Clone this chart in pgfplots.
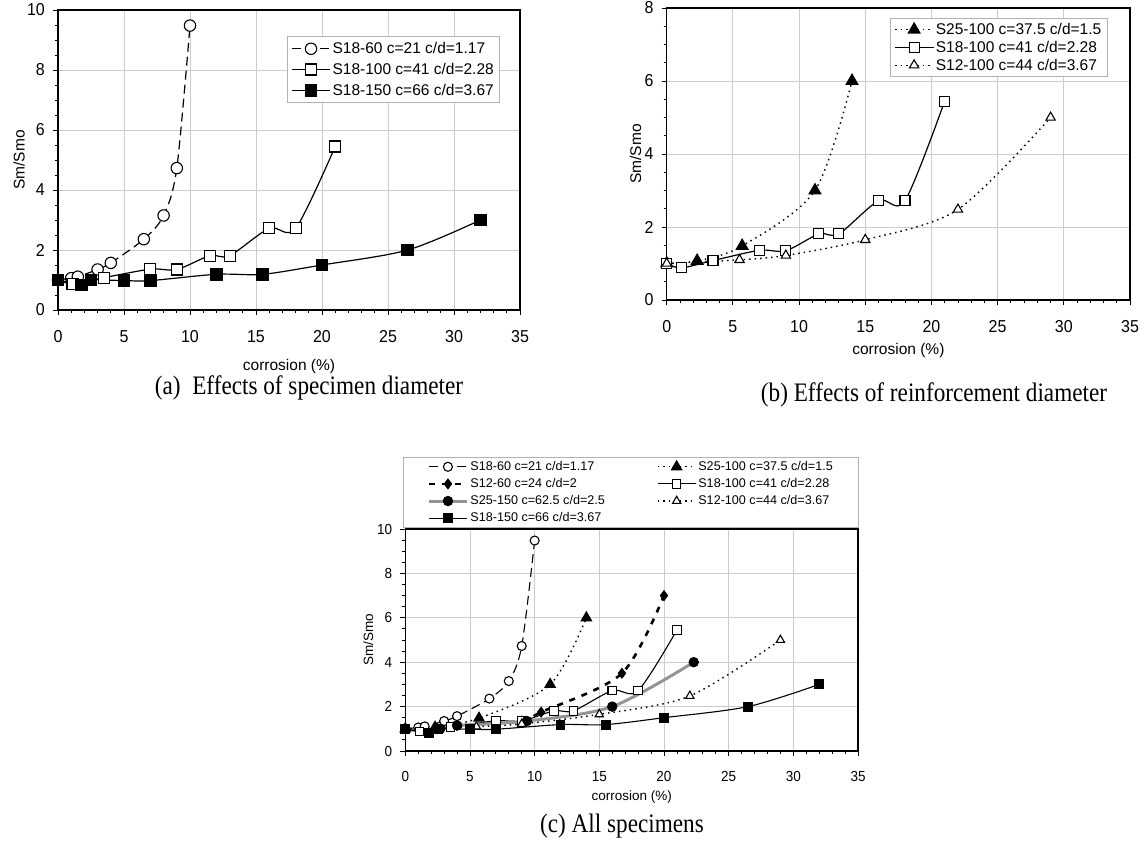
\documentclass[border=0pt]{standalone}
\usepackage{pgfplots}
\pgfplotsset{compat=1.18}
\usepackage{fontspec}
\setmainfont{Liberation Sans}
\newfontfamily\capfont{Liberation Serif}

\pgfplotsset{
 myaxis/.style={
  scale only axis,
  xmin=0, xmax=35, ymin=0,
  xtick distance=5, minor x tick num=4,
  ytick distance=2, minor y tick num=3,
  tick align=outside,
  xtick pos=bottom, ytick pos=left,
  major tick length=5pt, minor tick length=3pt,
  tick style={black, line width=0.8pt},
  grid=major,
  major grid style={line width=0.8pt, color=black!20},
  axis line style={line width=1.2pt},
  /pgf/number format/assume math mode=true,
  xlabel={corrosion (\%)},
  ylabel={Sm/Smo},
  legend cell align=left,
  legend image code/.code={\draw[mark repeat=2,mark phase=2,##1] plot coordinates {(0pt,0pt) (19pt,0pt) (38pt,0pt)};},
  legend style={draw=black!30, line width=0.8pt, font=\fontsize{15.5}{18}\selectfont,
     anchor=north west, nodes={inner sep=2pt}, inner xsep=4pt, inner ysep=3pt},
 },
 big/.style={
  tick label style={font=\fontsize{16}{18}\selectfont, yscale=1.08},
  label style={font=\fontsize{15.5}{18}\selectfont},
  xticklabel style={anchor=center, yshift=-20pt},
  yticklabel style={anchor=east, inner sep=0pt, xshift=-8pt},
 },
 small/.style={
  tick label style={font=\fontsize{13.5}{16}\selectfont, yscale=1.08},
  label style={font=\fontsize{13.5}{16}\selectfont},
  xticklabel style={anchor=center, yshift=-19pt},
  yticklabel style={anchor=east, inner sep=0pt, xshift=-8pt},
 },
 s1860/.style={black, line width=1.2pt, dash pattern=on 9pt off 5pt, smooth, mark=*, mark options={solid, fill=white, line width=1.1pt}},
 s18100/.style={black, line width=1.2pt, smooth, mark=square*, mark options={solid, fill=white, line width=1.1pt}},
 s18150/.style={black, line width=1.2pt, smooth, mark=square*, mark options={solid, fill=black}},
 s25100/.style={black, line width=1.4pt, dash pattern=on 1.5pt off 4pt, smooth, mark=triangle*, mark options={solid, fill=black}},
 s12100/.style={black, line width=1.4pt, dash pattern=on 1.5pt off 4pt, smooth, mark=triangle*, mark options={solid, fill=white, line width=1.1pt}},
 s1260/.style={black, line width=2.6pt, dash pattern=on 6pt off 7pt, smooth, mark=diamond*, mark options={solid, fill=black, line width=0.8pt}},
 s25150/.style={color=black!42, line width=3pt, smooth, mark=*, mark options={solid, fill=black, draw=black, line width=0.8pt}},
}

\pgfplotstableread{
x y
0 1
1 1.06
1.5 1.11
3 1.35
4 1.57
6.5 2.36
8 3.15
9 4.73
10 9.48
}\tSAA
\pgfplotstableread{
x y
0 1
1.1 0.88
3.5 1.08
7 1.36
9 1.35
11.5 1.81
13 1.81
16 2.72
18 2.72
21 5.45
}\tSAB
\pgfplotstableread{
x y
0 1
1.8 0.83
2.5 1.0
5 0.98
7 0.98
12 1.19
15.5 1.19
20 1.5
26.5 2.0
32 3.0
}\tSAC
\pgfplotstableread{
x y
0 1
2.3 1.07
5.7 1.48
11.2 3.0
14 6.0
}\tSBA
\pgfplotstableread{
x y
0 1
5.5 1.1
9 1.22
15 1.65
22 2.48
29 5.0
}\tSBC
\pgfplotstableread{
x y
0 1
2.5 1.0
4 1.15
9 1.35
10.5 1.75
16.75 3.5
20 7.0
}\tSCA
\pgfplotstableread{
x y
0 1
2.7 1.0
4 1.15
9.4 1.35
16 2.0
22.3 4.0
}\tSCB

\begin{document}
\begin{tikzpicture}
\path[use as bounding box] (0pt,0pt) rectangle (1142pt,848pt);

% (a)
\begin{axis}[myaxis, big, at={(58pt,538pt)}, anchor=south west, width=462pt, height=300pt, ymax=10,
  xlabel style={at={(axis description cs:0.5,0)}, anchor=center, yshift=-56pt},
  ylabel style={at={([xshift=-39pt]axis description cs:0,0.5)}, anchor=center},
  legend style={at={(0.4957,0.9133)}, row sep=4pt, inner ysep=4pt}]
\addplot[s1860, mark size=5.7pt] table {\tSAA};
\addlegendentry{S18-60 c=21 c/d=1.17}
\addplot[s18100, mark size=5.5pt] table {\tSAB};
\addlegendentry{S18-100 c=41 c/d=2.28}
\addplot[s18150, mark size=5.8pt] table {\tSAC};
\addlegendentry{S18-150 c=66 c/d=3.67}
\end{axis}

% (b)
\begin{axis}[myaxis, big, at={(666.7pt,548pt)}, anchor=south west, width=463.3pt, height=292pt, ymax=8,
  xlabel style={at={(axis description cs:0.5,0)}, anchor=center, yshift=-50pt},
  ylabel style={at={([xshift=-31pt]axis description cs:0,0.5)}, anchor=center},
  legend style={at={(0.482,0.9658)}, row sep=1pt}]
\addplot[s25100, mark size=6.5pt] table {\tSBA};
\addlegendentry{S25-100 c=37.5 c/d=1.5}
\addplot[s18100, mark size=5pt] table {\tSAB};
\addlegendentry{S18-100 c=41 c/d=2.28}
\addplot[s12100, mark size=5.4pt] table {\tSBC};
\addlegendentry{S12-100 c=44 c/d=3.67}
\end{axis}

% (c)
\begin{axis}[myaxis, small, at={(405.3pt,97pt)}, anchor=south west, width=452.7pt, height=222pt, ymax=10,
  xlabel style={at={(axis description cs:0.5,0)}, anchor=center, yshift=-46pt},
  ylabel style={at={([xshift=-37pt]axis description cs:0,0.5)}, anchor=center},
  legend columns=2,
  legend style={at={(-0.005,1.324)}, font=\fontsize{12.6}{15}\selectfont, row sep=2.5pt, inner xsep=24pt, inner ysep=2pt,
    /tikz/every even column/.append style={column sep=50pt}}]
\addplot[s1860, line width=1.1pt, mark size=4.5pt] table {\tSAA};
\addlegendentry{S18-60 c=21 c/d=1.17}
\addplot[s25100, mark size=5.6pt] table {\tSBA};
\addlegendentry{S25-100 c=37.5 c/d=1.5}
\addplot[s1260, mark size=5pt] table {\tSCA};
\addlegendentry{S12-60 c=24 c/d=2}
\addplot[s18100, line width=1.1pt, mark size=4.3pt] table {\tSAB};
\addlegendentry{S18-100 c=41 c/d=2.28}
\addplot[s25150, mark size=4.8pt] table {\tSCB};
\addlegendentry{S25-150 c=62.5 c/d=2.5}
\addplot[s12100, mark size=4.8pt] table {\tSBC};
\addlegendentry{S12-100 c=44 c/d=3.67}
\addplot[s18150, line width=1.1pt, mark size=4.4pt] table {\tSAC};
\addlegendentry{S18-150 c=66 c/d=3.67}
\end{axis}

\node[font=\capfont\fontsize{23.2}{28}\selectfont, yscale=1.15] at (309pt,460.5pt) {(a)\ \ Effects of specimen diameter};
\node[font=\capfont\fontsize{23.2}{28}\selectfont, yscale=1.15] at (934pt,452.6pt) {(b) Effects of reinforcement diameter};
\node[font=\capfont\fontsize{23.2}{28}\selectfont, yscale=1.15] at (622pt,22pt) {(c) All specimens};
\end{tikzpicture}
\end{document}
